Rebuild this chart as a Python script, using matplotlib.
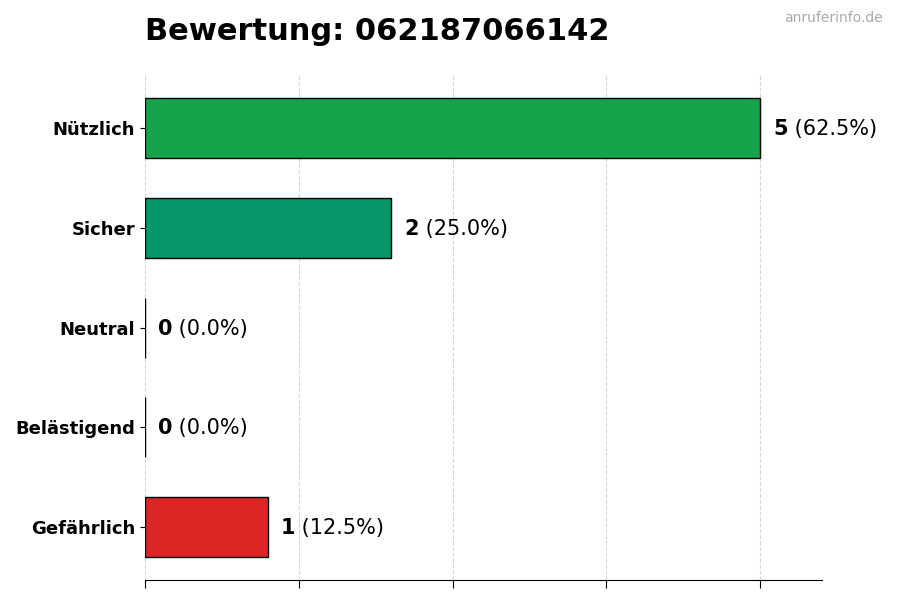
import matplotlib
matplotlib.use('Agg')
import matplotlib.pyplot as plt
from matplotlib.transforms import offset_copy

categories = ['Nützlich', 'Sicher', 'Neutral', 'Belästigend', 'Gefährlich']
counts = [5, 2, 0, 0, 1]
colors = ['#16a34a', '#059669', '#6b7280', '#f59e0b', '#dc2626']
number = '062187066142'

total = sum(counts)

fig = plt.figure(figsize=(9, 6), dpi=100)
ax = fig.add_axes([0.161, 0.033, 0.752, 0.842])

ypos = list(range(len(categories)))
ax.barh(ypos, counts, height=0.6, color=colors, edgecolor='black', linewidth=1, zorder=3)
ax.invert_yaxis()
ax.set_yticks(ypos)
ax.set_yticklabels(categories, fontsize=13, fontweight='bold')
ax.set_xlim(0, max(counts) * 1.1)
ax.set_xticks([max(counts) * f for f in (0, 0.25, 0.5, 0.75, 1.0)])
ax.set_xticklabels([])
ax.tick_params(axis='x', length=6)
ax.grid(axis='x', linestyle='--', color='#cccccc', alpha=0.8, zorder=0)

for s in ('top', 'right', 'left'):
    ax.spines[s].set_visible(False)

# value labels: bold count, then regular percentage
fig.canvas.draw()
renderer = fig.canvas.get_renderer()
for y, c in zip(ypos, counts):
    tr = offset_copy(ax.transData, fig=fig, x=13, y=-1, units='dots')
    t1 = ax.text(c, y, str(c), fontsize=15, fontweight='bold', va='center', ha='left', transform=tr)
    w = t1.get_window_extent(renderer).width
    tr2 = offset_copy(ax.transData, fig=fig, x=13 + w, y=-1, units='dots')
    ax.text(c, y, ' (%.1f%%)' % (100.0 * c / total), fontsize=15, va='center', ha='left', transform=tr2)

fig.text(145 / 900, 1 - 31 / 600, 'Bewertung: ' + number, fontsize=22, fontweight='bold', ha='left', va='center')
fig.text(883 / 900, 1 - 18 / 600, 'anruferinfo.de', fontsize=10, color='#aaaaaa', ha='right', va='center')

plt.savefig('out.png', dpi=100)
